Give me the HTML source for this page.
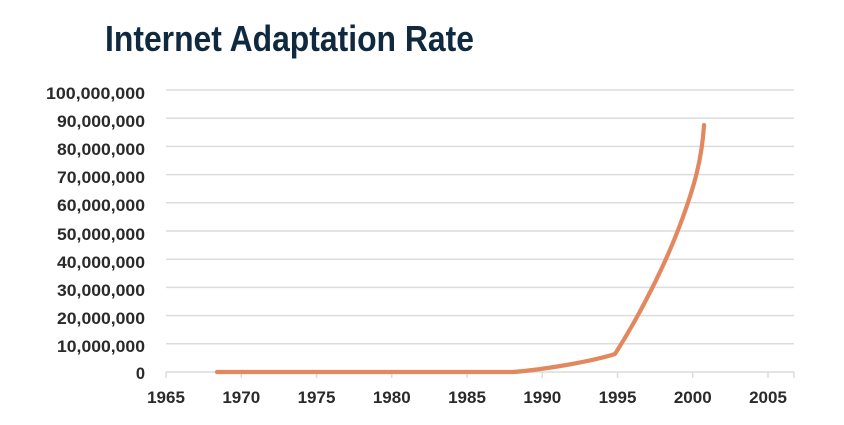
<!DOCTYPE html>
<html><head><meta charset="utf-8"><style>
html,body{margin:0;padding:0;background:#fff;}
svg{display:block;}
</style></head><body>
<svg width="844" height="425" viewBox="0 0 844 425" xmlns="http://www.w3.org/2000/svg">
<rect width="844" height="425" fill="#fff"/>
<text x="105" y="51" font-family="Liberation Sans, sans-serif" font-weight="bold" font-size="36" fill="#0f2a40" textLength="369" lengthAdjust="spacingAndGlyphs">Internet Adaptation Rate</text>
<g stroke="#dcdcdc" stroke-width="1.5">
<line x1="166" y1="90" x2="794" y2="90"/>
<line x1="166" y1="118.2" x2="794" y2="118.2"/>
<line x1="166" y1="146.4" x2="794" y2="146.4"/>
<line x1="166" y1="174.6" x2="794" y2="174.6"/>
<line x1="166" y1="202.8" x2="794" y2="202.8"/>
<line x1="166" y1="231" x2="794" y2="231"/>
<line x1="166" y1="259.2" x2="794" y2="259.2"/>
<line x1="166" y1="287.4" x2="794" y2="287.4"/>
<line x1="166" y1="315.6" x2="794" y2="315.6"/>
<line x1="166" y1="343.8" x2="794" y2="343.8"/>
<line x1="166" y1="372" x2="794" y2="372"/>
<line x1="166" y1="372" x2="166" y2="378"/>
<line x1="241.25" y1="372" x2="241.25" y2="378"/>
<line x1="316.5" y1="372" x2="316.5" y2="378"/>
<line x1="391.75" y1="372" x2="391.75" y2="378"/>
<line x1="467" y1="372" x2="467" y2="378"/>
<line x1="542.25" y1="372" x2="542.25" y2="378"/>
<line x1="617.5" y1="372" x2="617.5" y2="378"/>
<line x1="692.75" y1="372" x2="692.75" y2="378"/>
<line x1="768" y1="372" x2="768" y2="378"/>
<line x1="794" y1="372" x2="794" y2="378"/>
</g>
<g font-family="Liberation Sans, sans-serif" font-weight="bold" font-size="16.5" fill="#2a2a2a" text-anchor="end">
<text x="145" y="99" textLength="99" lengthAdjust="spacingAndGlyphs">100,000,000</text>
<text x="145" y="127" textLength="88" lengthAdjust="spacingAndGlyphs">90,000,000</text>
<text x="145" y="155" textLength="88" lengthAdjust="spacingAndGlyphs">80,000,000</text>
<text x="145" y="183" textLength="88" lengthAdjust="spacingAndGlyphs">70,000,000</text>
<text x="145" y="211" textLength="88" lengthAdjust="spacingAndGlyphs">60,000,000</text>
<text x="145" y="240" textLength="88" lengthAdjust="spacingAndGlyphs">50,000,000</text>
<text x="145" y="268" textLength="88" lengthAdjust="spacingAndGlyphs">40,000,000</text>
<text x="145" y="296" textLength="88" lengthAdjust="spacingAndGlyphs">30,000,000</text>
<text x="145" y="324" textLength="88" lengthAdjust="spacingAndGlyphs">20,000,000</text>
<text x="145" y="352" textLength="88" lengthAdjust="spacingAndGlyphs">10,000,000</text>
<text x="145" y="379">0</text>
</g>
<g font-family="Liberation Sans, sans-serif" font-weight="bold" font-size="17" fill="#2a2a2a" text-anchor="middle">
<text x="166" y="403">1965</text>
<text x="241.25" y="403">1970</text>
<text x="316.5" y="403">1975</text>
<text x="391.75" y="403">1980</text>
<text x="467" y="403">1985</text>
<text x="542.25" y="403">1990</text>
<text x="617.5" y="403">1995</text>
<text x="692.75" y="403">2000</text>
<text x="768" y="403">2005</text>
</g>
<path d="M217,372 L513,372 C540,370 590,362 615,354 C640,315 665,265 680,225 C695,185 702,158 704,125" fill="none" stroke="#e3875f" stroke-width="4.2" stroke-linecap="round" stroke-linejoin="round"/>
</svg>
</body></html>
